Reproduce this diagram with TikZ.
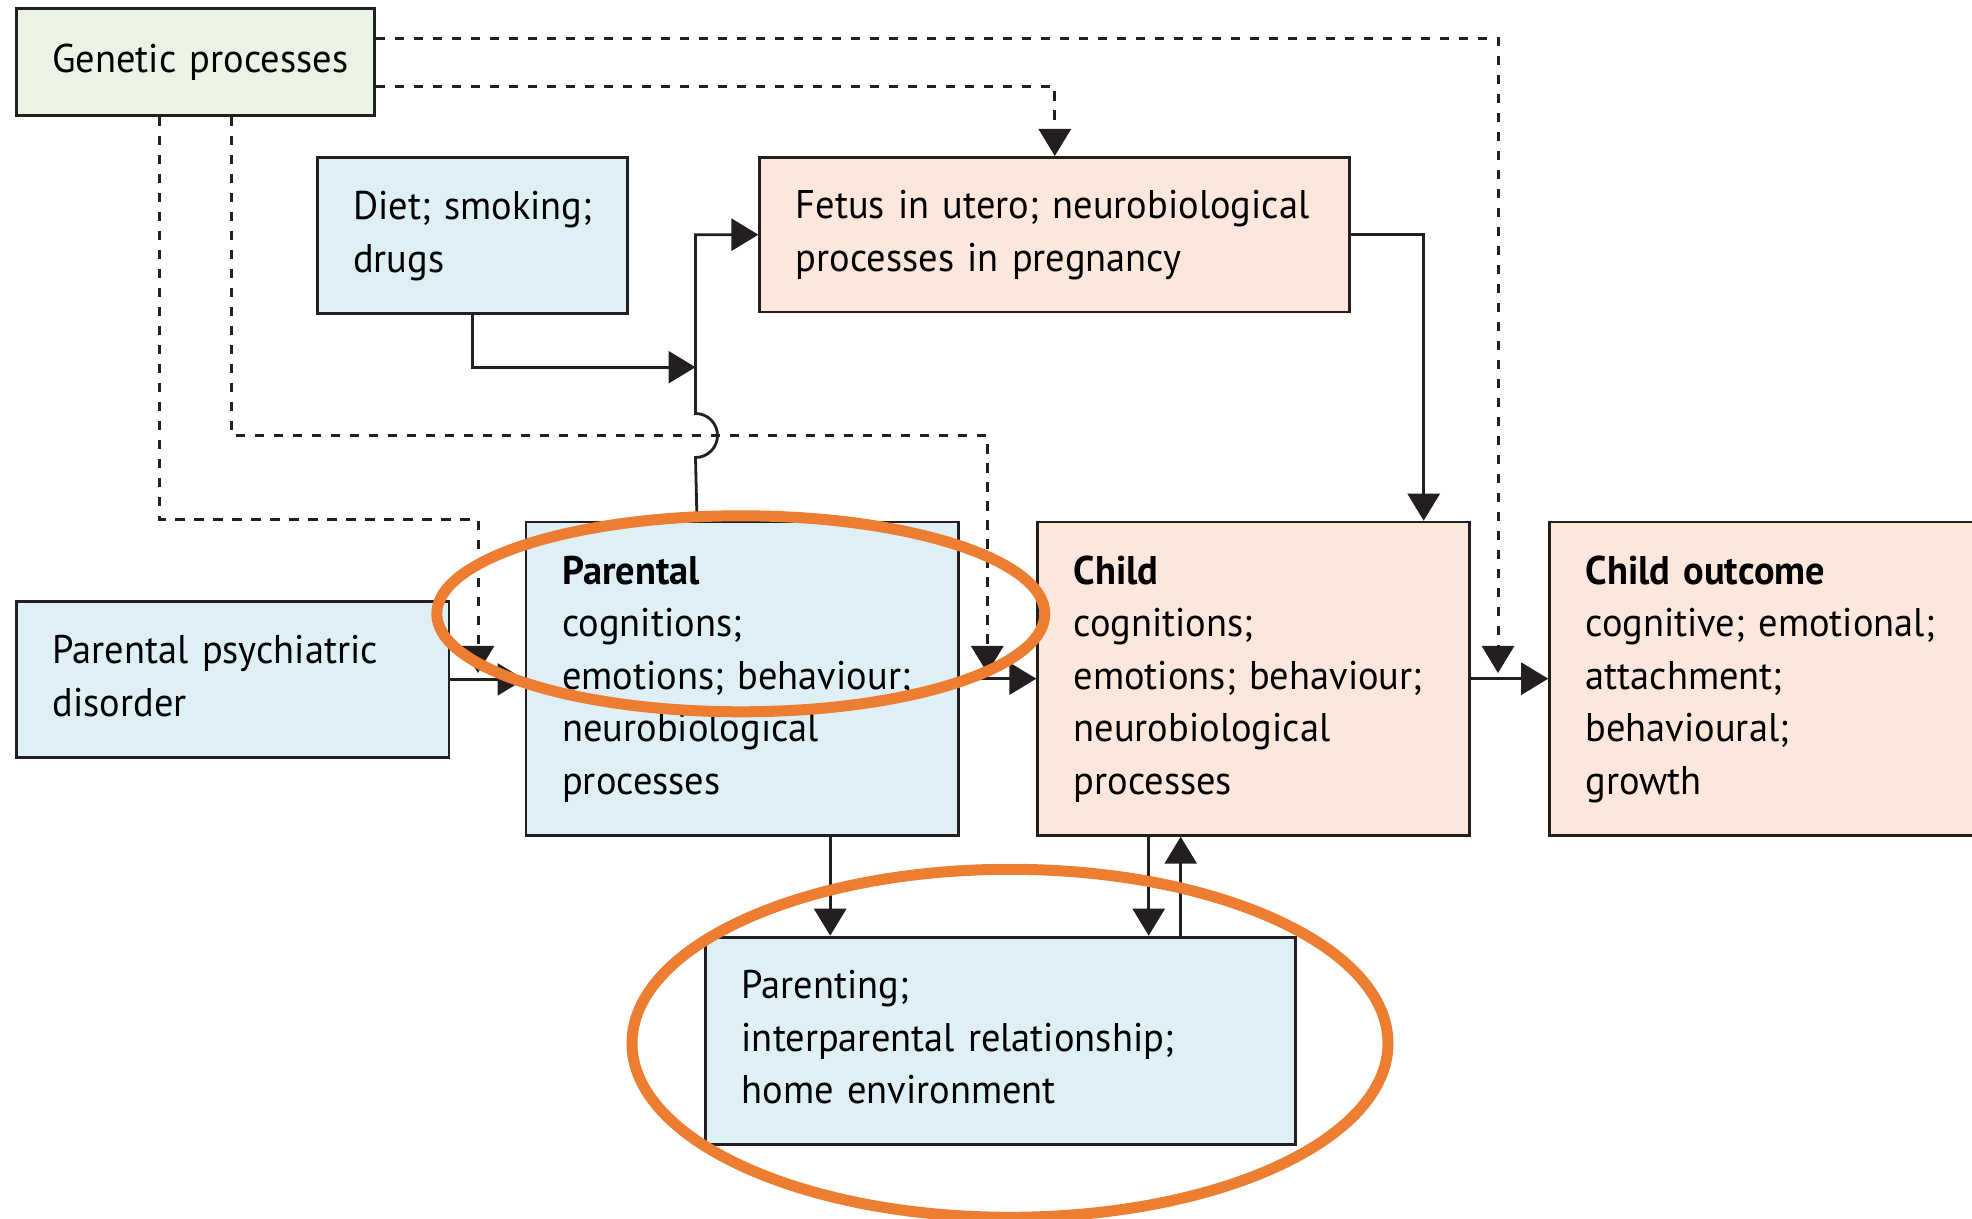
\documentclass[tikz,border=0pt]{standalone}
\usepackage{fontspec}
\setmainfont{PT Sans}[FakeStretch=0.96]
\usetikzlibrary{arrows.meta}
\definecolor{inkline}{RGB}{35,31,32}
\definecolor{genfill}{RGB}{234,243,228}
\definecolor{bluefill}{RGB}{222,239,245}
\definecolor{pinkfill}{RGB}{252,231,221}
\definecolor{ringorange}{RGB}{236,125,49}
\newcommand{\boxlines}[1]{\begin{tabular}{@{}l@{}}#1\end{tabular}}

\begin{document}
\begin{tikzpicture}[x=0.5pt, y=-0.5pt, font=\fontsize{20}{26.25}\selectfont,
box/.style={draw=inkline, line width=1.4pt, anchor=north west, inner xsep=18pt, inner ysep=0pt, align=left},
flow/.style={draw=inkline, line width=1.4pt, -{Triangle[length=13.5pt, width=16pt]}},
gene/.style={flow, line width=1.5pt, dash pattern=on 4.6pt off 4.9pt},
ring/.style={draw=ringorange, line width=5.5pt}]
\useasboundingbox (0,0) rectangle (1972,1219);

% boxes
\node[box, fill=genfill, minimum width=179pt, minimum height=53.5pt, text width=143pt] (genetic) at (15,7.5) {\boxlines{Genetic processes}};
\node[box, fill=bluefill, minimum width=155.3pt, minimum height=78pt, text width=119.3pt] (diet) at (315.7,156) {\boxlines{Diet; smoking;\\ drugs}};
\node[box, fill=pinkfill, minimum width=295pt, minimum height=77.3pt, text width=259pt] (fetus) at (758.4,156) {\boxlines{Fetus in utero; neurobiological\\ processes in pregnancy}};
\node[box, fill=bluefill, minimum width=216.3pt, minimum height=78pt, text width=180pt] (ppd) at (15,600) {\boxlines{Parental psychiatric\\ disorder}};
\node[box, fill=bluefill, minimum width=216.3pt, minimum height=156.6pt, text width=180pt] (parental) at (524.5,520.7) {\boxlines{\textbf{Parental}\\ cognitions;\\ emotions; behaviour;\\ neurobiological\\ processes}};
\node[box, fill=pinkfill, minimum width=215.7pt, minimum height=156.6pt, text width=180pt] (child) at (1036.3,520.7) {\boxlines{\textbf{Child}\\ cognitions;\\ emotions; behaviour;\\ neurobiological\\ processes}};
\node[box, fill=pinkfill, minimum width=250pt, minimum height=156.6pt, text width=214pt] (outcome) at (1548.2,520.7) {\boxlines{\textbf{Child outcome}\\ cognitive; emotional;\\ attachment;\\ behavioural;\\ growth}};
\node[box, fill=bluefill, minimum width=295pt, minimum height=103.8pt, text width=259pt] (parenting) at (704.3,935.7) {\boxlines{Parenting;\\ interparental relationship;\\ home environment}};

% free ends
\coordinate (tipA) at (478,673);
\coordinate (tipB) at (987.3,673);
\coordinate (tipC) at (1498,673);
\coordinate (feed) at (695.5,367.2);

% genetic paths
\draw[gene] ([yshift=12pt]genetic.east) -| (tipC);
\draw[gene] ([yshift=-12pt]genetic.east) -| (fetus.north);
\draw[gene] ([xshift=-18pt]genetic.south) |- (478,519.4) -- (tipA);
\draw[gene] ([xshift=18pt]genetic.south) |- (987.3,435.5) -- (tipB);

% solid paths
\draw[flow] (diet.south) |- (feed);
\draw[flow] ([xshift=-22.6pt]parental.north) -- (695.5,457.5) arc[start angle=-90, end angle=90, radius=11pt] |- (fetus.west);
\draw[flow] (fetus.east) -| ([xshift=85pt]child.north);
\draw[flow] (ppd.east) -- (ppd.east -| parental.west);
\draw[flow] (parental.east) -- (child.west);
\draw[flow] (child.east) -- (outcome.west);
\draw[flow] ([xshift=44pt]parental.south) -- ([xshift=44pt]parental.south |- parenting.north);
\draw[flow] ([xshift=-52.5pt]child.south) -- ([xshift=-52.5pt]child.south |- parenting.north);
\draw[flow] ([xshift=-36.5pt]child.south |- parenting.north) -- ([xshift=-36.5pt]child.south);

% highlight rings
\draw[ring] (740.8,613.8) ellipse[x radius=152pt, y radius=49pt];
\draw[ring] (1010,1043.3) ellipse[x radius=189pt, y radius=87pt];
\end{tikzpicture}
\end{document}
